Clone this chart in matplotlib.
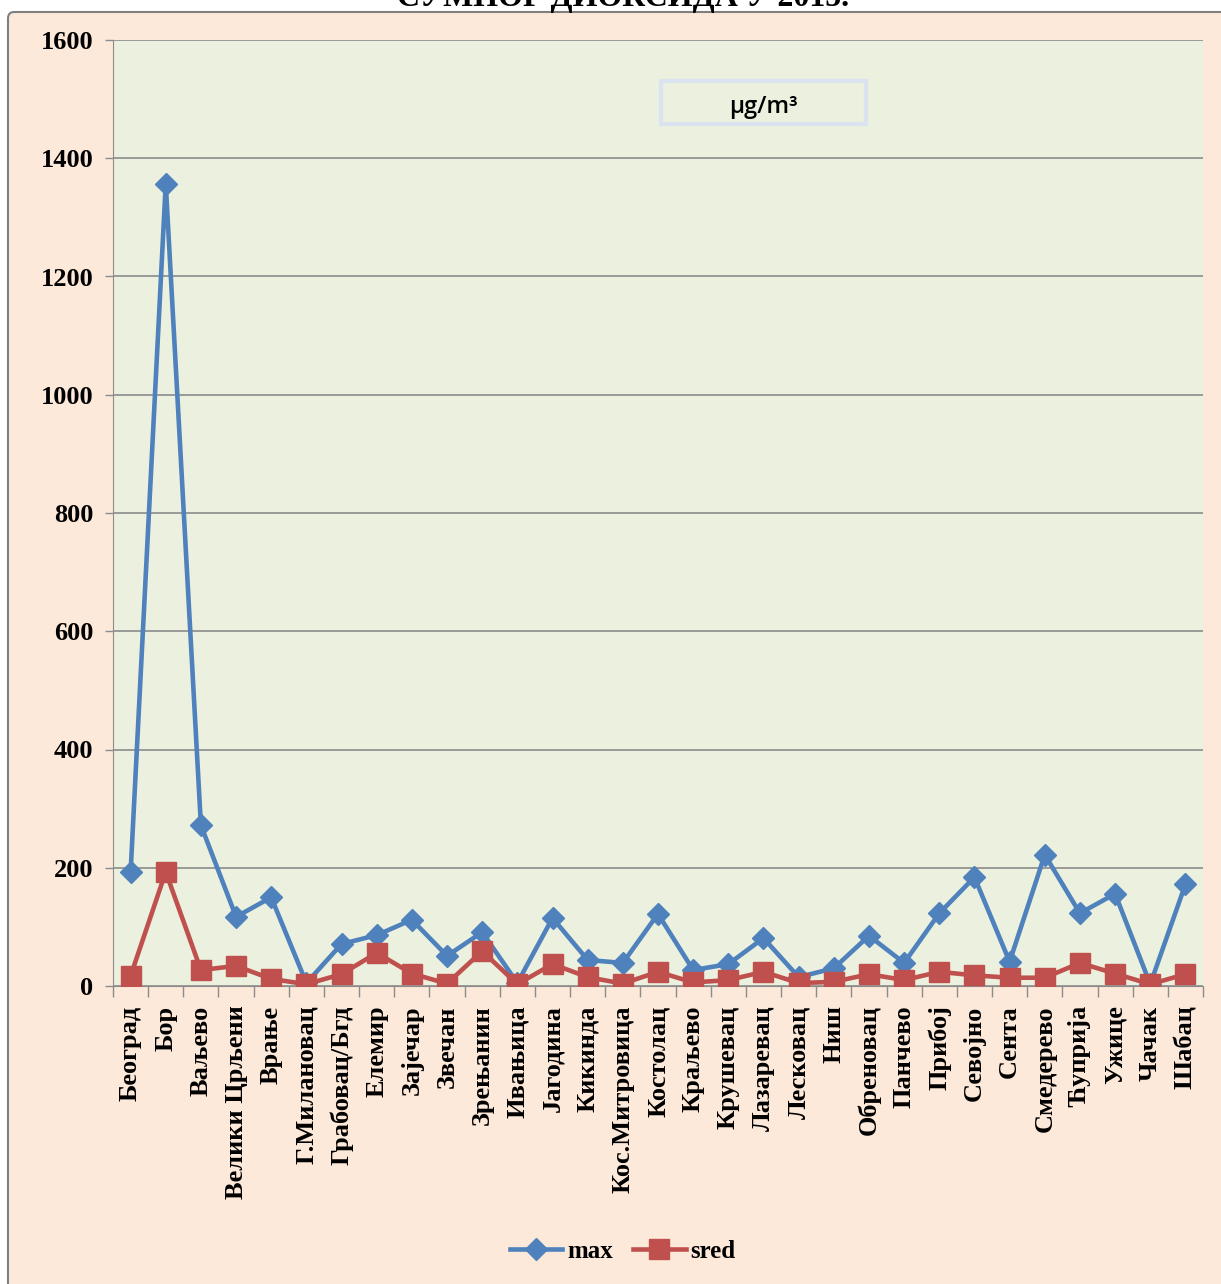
import numpy as np
import matplotlib.pyplot as plt
from matplotlib.patches import FancyBboxPatch, Rectangle

# Мерна места и концентрације SO2 (µg/m3)
gradovi = ['Београд', 'Бор', 'Ваљево', 'Велики Црљени', 'Врање', 'Г.Милановац',
           'Грабовац/Бгд', 'Елемир', 'Зајечар', 'Звечан', 'Зрењанин', 'Ивањица',
           'Јагодина', 'Кикинда', 'Кос.Митровица', 'Костолац', 'Краљево',
           'Крушевац', 'Лазаревац', 'Лесковац', 'Ниш', 'Обреновац', 'Панчево',
           'Прибој', 'Севојно', 'Сента', 'Смедерево', 'Ћуприја', 'Ужице',
           'Чачак', 'Шабац']
vr_max = [192, 1357, 272, 117, 150, 5, 71, 86, 112, 51, 91, 5, 115, 44, 39, 122,
          27, 37, 81, 15, 30, 85, 39, 123, 184, 41, 222, 123, 156, 3, 172]
vr_sred = [17, 193, 27, 34, 12, 3, 20, 56, 21, 4, 59, 3, 37, 15, 4, 24,
           6, 10, 24, 5, 7, 20, 10, 24, 18, 14, 14, 39, 21, 3, 20]

plava = '#4F81BD'
crvena = '#C0504D'
serif = 'Liberation Serif'

fig = plt.figure(figsize=(12.21, 12.84), dpi=100)
fig.patch.set_facecolor('white')

# okvir dijagrama
okvir = FancyBboxPatch((8 / 1221, -0.05), 1.05, 1 - 12 / 1284 + 0.05,
                       boxstyle='round,pad=0,rounding_size=0.005',
                       transform=fig.transFigure, facecolor='#FDE9D9',
                       edgecolor='#7F7F7F', linewidth=1.5, zorder=-1)
fig.patches.append(okvir)

fig.text(0.51, 1 - 6 / 1284, 'СУМПОР ДИОКСИДА У 2015.', ha='center', va='baseline',
         fontsize=23, fontweight='bold', family=serif)

ax = fig.add_axes([113 / 1221, 1 - 986 / 1284, (1203 - 113) / 1221, (986 - 40) / 1284])
ax.set_zorder(1)
ax.set_facecolor('#EBF1DE')

x = np.arange(len(gradovi))
ax.plot(x, vr_max, color=plava, lw=3.3, marker='D', markersize=11, label='max', zorder=3)
ax.plot(x, vr_sred, color=crvena, lw=3.3, marker='s', markersize=14, label='sred', zorder=4)

ax.set_xlim(-0.5, len(gradovi) - 0.5)
ax.set_ylim(0, 1600)
ax.set_yticks(np.arange(0, 1601, 200))
ax.yaxis.grid(True, color='#8C8C8C', lw=1.2)
ax.set_axisbelow(True)

ax.set_xticks(x)
ax.set_xticklabels(gradovi, rotation=90, fontsize=19, fontweight='bold', family=serif)
ax.set_xticks(np.arange(-0.5, len(gradovi), 1), minor=True)
ax.tick_params(axis='x', which='major', length=0, pad=14)
ax.tick_params(axis='x', which='minor', length=8, color='#8C8C8C', width=1)
ax.tick_params(axis='y', length=6, color='#8C8C8C', width=1, pad=8)
for lbl in ax.get_yticklabels():
    lbl.set_fontsize(19)
    lbl.set_fontweight('bold')
    lbl.set_family(serif)

for s in ['top', 'right']:
    ax.spines[s].set_visible(False)
ax.spines['left'].set_color('#8C8C8C')
ax.spines['bottom'].set_color('#8C8C8C')

# jedinica mere
ax.add_patch(Rectangle((0.503, 0.911), 0.188, 0.046, transform=ax.transAxes,
                       facecolor='#EBF1DE', edgecolor='#DCE3F0', lw=3, zorder=5))
ax.text(0.597, 0.929, 'µg/m³', transform=ax.transAxes, ha='center', va='center',
        fontsize=17, fontweight='semibold', family='Open Sans', zorder=6)

fig.legend(loc='center', bbox_to_anchor=(0.51, 1 - 1251 / 1284), ncol=2, frameon=False,
           prop={'family': serif, 'weight': 'bold', 'size': 18},
           handlelength=2.1, columnspacing=0.8, handletextpad=0.2)

fig.savefig('out.png', dpi=100, facecolor=fig.get_facecolor())
